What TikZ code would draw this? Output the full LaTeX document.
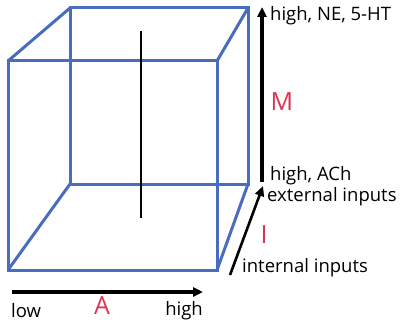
\documentclass[tikz,border=0pt]{standalone}
\usepackage{fontspec}
\setmainfont{Open Sans}
\usetikzlibrary{arrows.meta}
\definecolor{cubeblue}{RGB}{72,108,190}
\definecolor{lblred}{RGB}{222,52,82}
\begin{document}
\begin{tikzpicture}[x=1pt,y=-1pt,
  edge/.style={draw=cubeblue,line width=3pt,line join=miter},
  axis/.style={draw=black,line width=3.2pt,-{Triangle[length=10pt,width=9pt]}},
  lbl/.style={inner sep=0pt,font=\fontsize{18.5}{20}\selectfont},
  rlbl/.style={inner sep=0pt,text=lblred,font=\fontsize{25}{27}\selectfont}]
\useasboundingbox (0,0) rectangle (403,326);
% cube corners
\coordinate (f1) at (8,61);
\coordinate (f2) at (217,61);
\coordinate (f3) at (217,270);
\coordinate (f4) at (8,270);
\coordinate (b1) at (70,8);
\coordinate (b2) at (248,8);
\coordinate (b3) at (248,184);
\coordinate (b4) at (70,184);
\draw[edge] (b1) -- (b2) -- (b3) -- (b4) -- cycle;
\draw[edge] (f1) -- (f2) -- (f3) -- (f4) -- cycle;
\draw[edge] (f1) -- (b1);
\draw[edge] (f2) -- (b2);
\draw[edge] (f3) -- (b3);
\draw[edge] (f4) -- (b4);
% inner vertical line
\coordinate (v1) at (141,31);
\coordinate (v2) at (141,218);
\draw[line width=2.4pt] (v1) -- (v2);
% A axis
\coordinate (a0) at (12,292);
\coordinate (a1) at (203,292);
\draw[axis] (a0) -- (a1);
\node[lbl,anchor=west] (low) at (11,311) {low};
\node[lbl,anchor=east] (ahigh) at (203,311) {high};
\node[rlbl] (A) at (102,306) {A};
% M axis
\coordinate (m0) at (262,182);
\coordinate (m1) at (262,7);
\draw[axis] (m0) -- (m1);
\node[lbl,anchor=west] (mhigh) at (270,16) {high, NE, 5-HT};
\node[rlbl] (M) at (282,102) {M};
\node[lbl,anchor=west] (ach) at (270,176) {high, ACh};
\node[lbl,anchor=west] (ext) at (267,197) {external inputs};
% I axis
\coordinate (i0) at (230,275);
\coordinate (i1) at (263,186);
\draw[axis,line width=2.6pt] (i0) -- (i1);
\node[rlbl] (I) at (264,235) {I};
\node[lbl,anchor=west] (int) at (242,268) {internal inputs};
\end{tikzpicture}
\end{document}
